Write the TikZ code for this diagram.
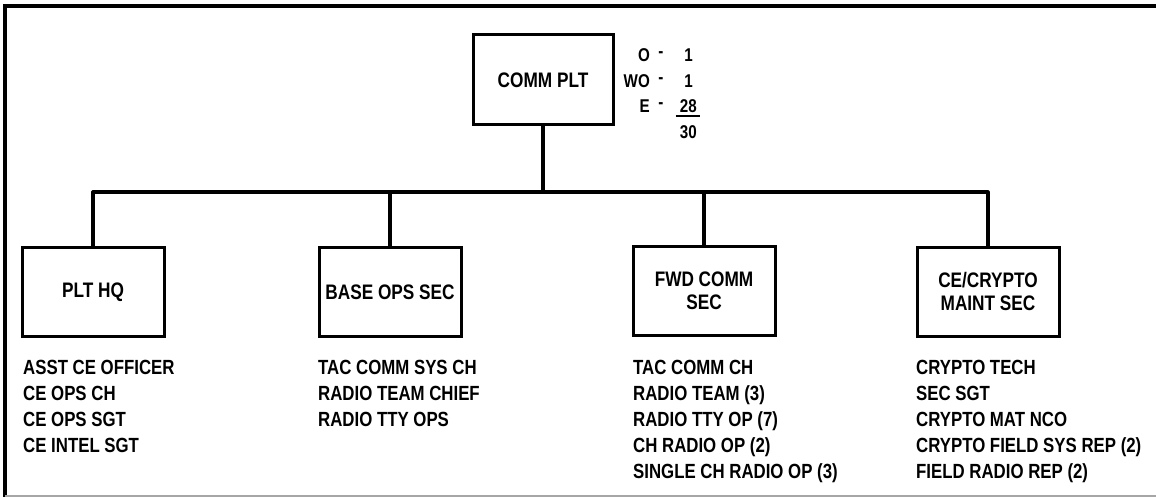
\documentclass[tikz,border=0pt]{standalone}
\usepackage{fontspec}
\setmainfont{Liberation Sans}[FakeStretch=0.82]
\begin{document}
\begin{tikzpicture}[x=1pt,y=-1pt,
  unitbox/.style={draw, line width=3pt, minimum width=142pt, minimum height=89pt,
    inner sep=0pt, align=center, font=\bfseries\fontsize{21}{23}\selectfont},
  itemlist/.style={anchor=north west, inner sep=0pt, align=left,
    font=\bfseries\fontsize{20.5}{26}\selectfont},
  conn/.style={line width=3.2pt, line join=round},
  cnt/.style={inner sep=0pt, font=\bfseries\fontsize{18.5}{20}\selectfont}]
\useasboundingbox (0,0) rectangle (1156,497);
% frame
\draw[line width=3.2pt] (1156,6) -- (5,6) -- (5,497);
\draw[gray!70, line width=1.5pt] (5,496) -- (1156,496);
% boxes
\node[unitbox, minimum width=140pt, minimum height=90pt] (top) at (543,80) {COMM PLT};
\node[unitbox] (hq)   at (93,292)  {PLT HQ};
\node[unitbox] (base) at (390,292) {BASE OPS SEC};
\node[unitbox] (fwd)  at (704,291) {FWD COMM\\SEC};
\node[unitbox] (ce)   at (988,291.5) {CE/CRYPTO\\MAINT SEC};
% connectors
\coordinate (bus) at (543,192);
\draw[conn] (top.south) -- (bus);
\draw[conn] (hq.north) |- (bus) -| (ce.north);
\draw[conn] (base.north) -- (base.north |- bus);
\draw[conn] (fwd.north) -- (fwd.north |- bus);
% strength figures
\node[cnt, anchor=east] (lo)  at (650,55)  {O};
\node[cnt, anchor=east] (lwo) at (650,81)  {WO};
\node[cnt, anchor=east] (le)  at (650,106) {E};
\node[cnt] (d1) at (661,55)  {-};
\node[cnt] (d2) at (661,81)  {-};
\node[cnt] (d3) at (661,106) {-};
\node[cnt, anchor=east] (n1) at (693,55)  {1};
\node[cnt, anchor=east] (n2) at (693,81)  {1};
\node[cnt, anchor=east] (n3) at (697,106) {28};
\node[cnt, anchor=east] (n4) at (697,132) {30};
\draw[line width=1.8pt] ([xshift=-4pt,yshift=-3pt]n3.south west) -- ([xshift=3pt,yshift=-3pt]n3.south east);
% lists
\node[itemlist] (lhq) at (23,359.5) {ASST CE OFFICER\\CE OPS CH\\CE OPS SGT\\CE INTEL SGT};
\node[itemlist] (lbase) at (318,359.5) {TAC COMM SYS CH\\RADIO TEAM CHIEF\\RADIO TTY OPS};
\node[itemlist] (lfwd) at (633,359.5) {TAC COMM CH\\RADIO TEAM (3)\\RADIO TTY OP (7)\\CH RADIO OP (2)\\SINGLE CH RADIO OP (3)};
\node[itemlist] (lce) at (916,359.5) {CRYPTO TECH\\SEC SGT\\CRYPTO MAT NCO\\CRYPTO FIELD SYS REP (2)\\FIELD RADIO REP (2)};
\end{tikzpicture}
\end{document}
